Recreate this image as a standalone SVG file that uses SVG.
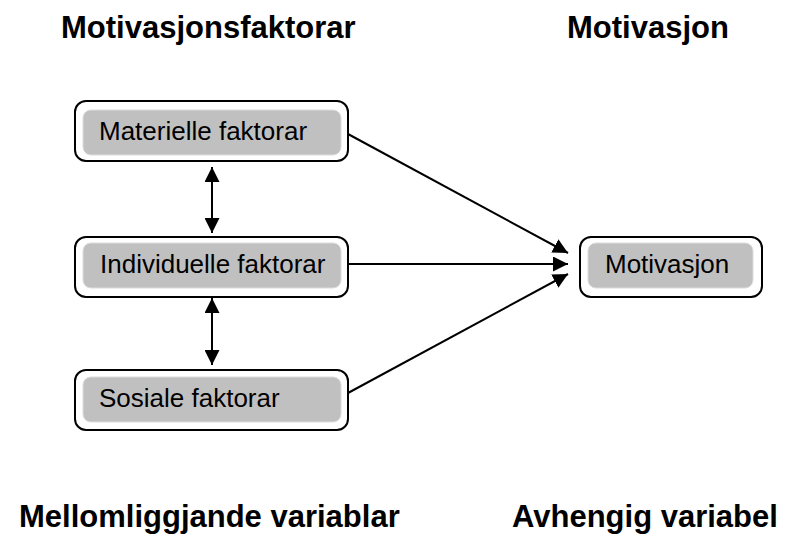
<svg xmlns="http://www.w3.org/2000/svg" width="789" height="536" viewBox="0 0 789 536">
  <style>
    .title { font-family: "Liberation Sans", Arial, sans-serif; font-weight: bold; font-size: 31px; fill: #000; }
    .label { font-family: "Liberation Sans", Arial, sans-serif; font-size: 26px; fill: #000; }
    .outer { fill: #fff; stroke: #000; stroke-width: 2; }
    .inner { fill: #c0c0c0; stroke: #dcdcdc; stroke-width: 1; }
    .link { stroke: #000; stroke-width: 2; fill: none; }
  </style>
  <defs>
    <marker id="head" markerUnits="userSpaceOnUse" markerWidth="15" markerHeight="15" refX="15" refY="7.5" orient="auto-start-reverse" viewBox="0 0 15 15">
      <path d="M0,0 L15,7.5 L0,15 z" fill="#000"/>
    </marker>
  </defs>
  <rect width="789" height="536" fill="#fff"/>

  <!-- column headings -->
  <g id="headings">
    <text class="title" x="61" y="38">Motivasjonsfaktorar</text>
    <text class="title" x="567" y="38">Motivasjon</text>
    <text class="title" x="19" y="527">Mellomliggjande variablar</text>
    <text class="title" x="512" y="527">Avhengig variabel</text>
  </g>

  <!-- factor nodes -->
  <g id="materielle">
    <rect class="outer" x="75" y="101" width="273" height="60" rx="11"/>
    <rect class="inner" x="83" y="110" width="258" height="45" rx="8"/>
    <text class="label" x="99" y="140">Materielle faktorar</text>
  </g>
  <g id="individuelle">
    <rect class="outer" x="75" y="237" width="273" height="60" rx="11"/>
    <rect class="inner" x="83" y="243" width="258" height="45" rx="8"/>
    <text class="label" x="100" y="273">Individuelle faktorar</text>
  </g>
  <g id="sosiale">
    <rect class="outer" x="75" y="370" width="273" height="60" rx="11"/>
    <rect class="inner" x="83" y="377" width="258" height="45" rx="8"/>
    <text class="label" x="99" y="407">Sosiale faktorar</text>
  </g>

  <!-- outcome node -->
  <g id="motivasjon">
    <rect class="outer" x="580" y="237" width="182" height="60" rx="11"/>
    <rect class="inner" x="588" y="243" width="165" height="45" rx="8"/>
    <text class="label" x="605" y="273">Motivasjon</text>
  </g>

  <!-- connectors -->
  <g id="connectors">
    <line class="link" x1="212" y1="167" x2="212" y2="233" marker-start="url(#head)" marker-end="url(#head)"/>
    <line class="link" x1="212" y1="298" x2="212" y2="365" marker-start="url(#head)" marker-end="url(#head)"/>
    <line class="link" x1="348" y1="134" x2="568" y2="253" marker-end="url(#head)"/>
    <line class="link" x1="348" y1="264" x2="568" y2="264" marker-end="url(#head)"/>
    <line class="link" x1="348" y1="393" x2="568" y2="274" marker-end="url(#head)"/>
  </g>
</svg>
